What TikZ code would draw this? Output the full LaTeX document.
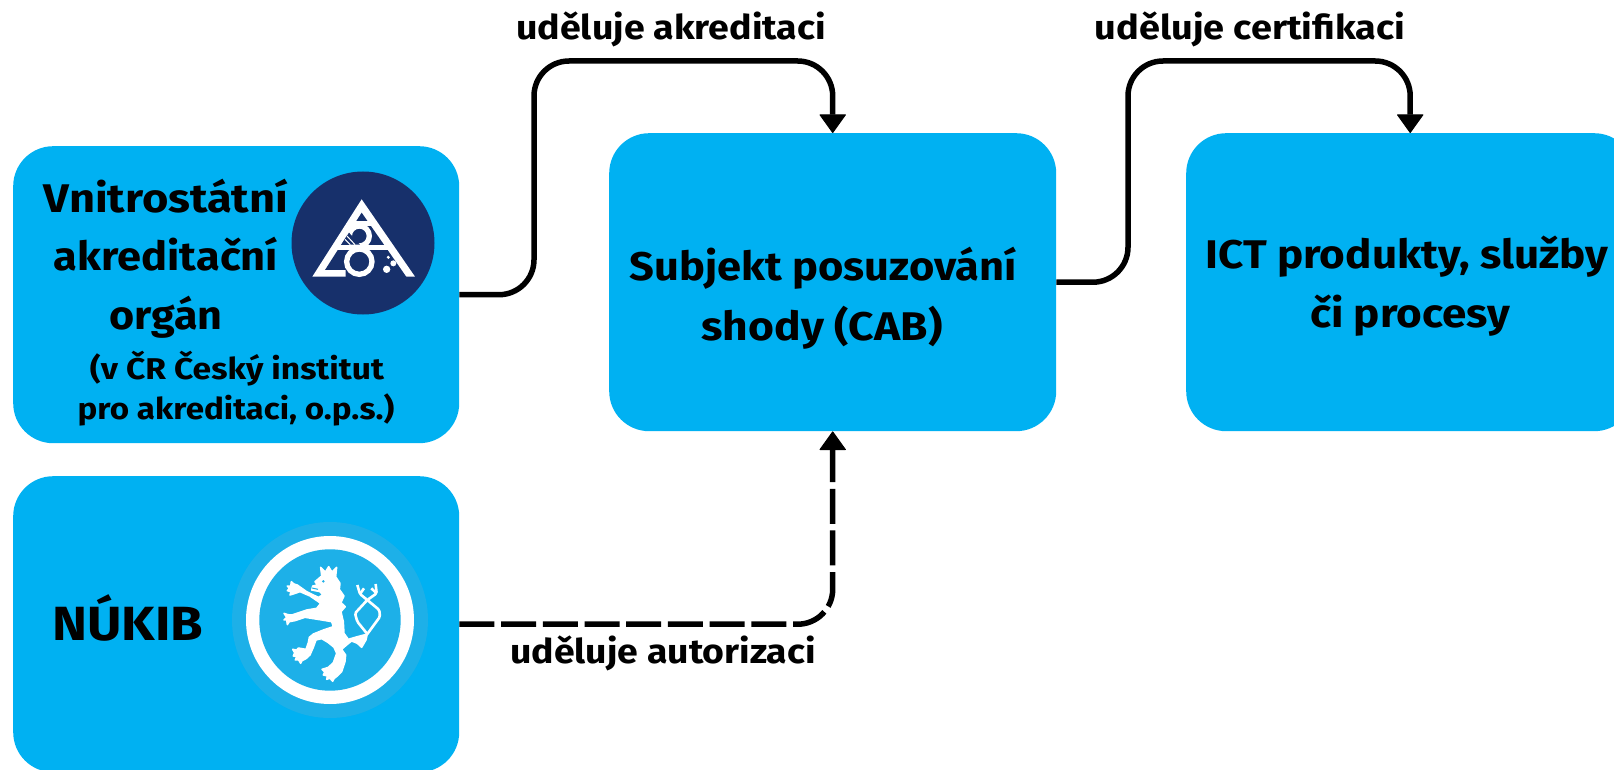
\documentclass[tikz,border=0pt]{standalone}
\usepackage{fontspec}
\setmainfont{Fira Sans}[BoldFont=* Bold]
\usetikzlibrary{arrows.meta}
\definecolor{boxblue}{HTML}{00B1F2}
\definecolor{abanavy}{HTML}{17306B}
\definecolor{halo}{HTML}{1DB0E8}
\tikzset{
  x=1pt,y=-1pt,
  blue box/.style={draw=none,fill=boxblue,rounded corners=40pt,inner sep=0pt,anchor=north west},
  big text/.style={inner sep=0pt,anchor=base,text=black,font=\fontsize{40}{40}\selectfont\bfseries\addfontfeature{FakeStretch=#1}},
  huge text/.style={inner sep=0pt,anchor=base,text=black,font=\fontsize{48}{48}\selectfont\bfseries\addfontfeature{FakeStretch=#1}},
  small text/.style={inner sep=0pt,anchor=base,text=black,font=\fontsize{30}{30}\selectfont\bfseries\addfontfeature{FakeStretch=#1}},
  label text/.style={inner sep=0pt,anchor=base,text=black,font=\fontsize{34}{34}\selectfont\bfseries\addfontfeature{FakeStretch=#1}},
  link/.style={draw=black,line width=5.5pt,rounded corners=35pt,-{Triangle[length=19pt,width=27pt,line width=1pt,round]}},
  dash link/.style={link,dash pattern=on 35pt off 6.7pt},
}
\begin{document}
\begin{tikzpicture}
\useasboundingbox (0,0) rectangle (1614,770);
\clip (0,0) rectangle (1614,770);
\node[blue box,minimum width=446pt,minimum height=297pt] (vao) at (13,146) {};
\node[blue box,minimum width=446pt,minimum height=296pt] (nukib) at (13,476) {};
\node[blue box,minimum width=447pt,minimum height=298pt] (cab) at (609,133) {};
\node[blue box,minimum width=448pt,minimum height=298pt] (ict) at (1186,133) {};

\node[big text=1.13] (t1) at (166,212) {Vnitrostátní};
\node[big text=1.085] (t2) at (166,270) {akreditační};
\node[big text=1.077] (t3) at (166,329) {orgán};
\node[small text=1.12] (t4) at (237,379) {(v ČR Český institut};
\node[small text=1.105] (t5) at (236,419) {pro akreditaci, o.p.s.)};
\node[huge text=1.1] (t6) at (128,640) {NÚKIB};
\node[big text=1.086] (t7) at (823,280) {Subjekt posuzování};
\node[big text=1.11] (t8) at (822,340) {shody (CAB)};
\node[big text=1.10] (t9) at (1407,269) {ICT produkty, služby};
\node[big text=1.10] (t10) at (1410,327) {či procesy};
\node[label text=1.104] (l1) at (671,40) {uděluje akreditaci};
\node[label text=1.115] (l2) at (1250,40) {uděluje certifikaci};
\node[label text=1.10] (l3) at (663,663) {uděluje autorizaci};

\coordinate (a1) at (534,61);
\coordinate (a2) at (1128,61);
\draw[link] (vao.east) -| (a1) -| (cab.north);
\draw[link] (cab.east) -| (a2) -| (ict.north);
\draw[dash link] (nukib.east) -| (cab.south);

% ABA logo
\fill[abanavy] (363,243) circle (71.5);
\begin{scope}[shift={(280,160)},x=0.3333pt,y=-0.3333pt]
  \fill[white] (245,118) -- (405,350) -- (97,350) -- cycle;
  \fill[abanavy] (245,158) -- (380,352) -- (197,352) -- (197,330) -- (135,330) -- cycle;
  \draw[white,line width=5pt] (165,263) -- (335,263);
  \draw[white,line width=5pt] (212,190) -- (278,190);
  \draw[white,line width=5.3pt] (238,228) circle (30);
  \draw[white,line width=5.3pt] (238,305) circle (38);
  \fill[abanavy] (207,218) -- (240,254) -- (184,254) -- cycle;
  \draw[white,line width=1pt] (201,228) -- (225,254) (195,238) -- (211,254);
  \fill[white] (320,328) circle (11) (340,310) circle (9) (325,292) circle (5);
\end{scope}

% NUKIB emblem
\fill[halo] (330,620) circle (98);
\fill[white] (330,620) circle (84);
\fill[halo] (330,620) circle (70.7);
\begin{scope}[shift={(280,560)},x=0.3333pt,y=-0.3333pt]
  \filldraw[white,line width=1.5pt,line join=round] (122,22) -- (136,36) -- (146,20) -- (156,36) -- (170,22) -- (167,50) -- (180,70) -- (178,88) -- (192,108) -- (183,128) -- (196,140) -- (183,155) -- (190,185) -- (192,220) -- (205,238) -- (225,232) -- (262,222) -- (258,240) -- (245,262) -- (232,250) -- (215,243) -- (200,255) -- (185,268) -- (197,285) -- (195,305) -- (185,335) -- (172,348) -- (162,356) -- (158,364) -- (150,355) -- (140,358) -- (142,348) -- (130,345) -- (134,336) -- (126,328) -- (145,322) -- (160,308) -- (170,280) -- (162,262) -- (145,248) -- (125,236) -- (108,240) -- (100,262) -- (90,285) -- (78,296) -- (66,302) -- (62,310) -- (56,300) -- (46,300) -- (50,290) -- (40,288) -- (44,278) -- (38,268) -- (50,270) -- (55,264) -- (78,268) -- (85,248) -- (88,232) -- (100,222) -- (130,210) -- (160,200) -- (155,185) -- (125,180) -- (75,172) -- (45,182) -- (28,185) -- (22,194) -- (20,180) -- (12,180) -- (20,172) -- (12,160) -- (24,164) -- (35,165) -- (80,150) -- (110,145) -- (122,130) -- (90,108) -- (60,95) -- (40,102) -- (30,105) -- (33,95) -- (22,92) -- (28,85) -- (22,78) -- (32,78) -- (34,65) -- (42,72) -- (52,75) -- (80,95) -- (115,112) -- (128,105) -- (120,95) -- (95,90) -- (98,78) -- (112,75) -- (105,65) -- (125,48) -- cycle;
  \draw[white,line width=2.6pt,line join=round,rounded corners=1.5pt] (262,222) -- (232,185) -- (225,160) -- (262,120) -- (240,102) -- (232,75);
  \draw[white,line width=2.6pt,line join=round] (240,102) -- (252,85);
  \draw[white,line width=2.6pt,line join=round,rounded corners=1.5pt] (262,120) -- (290,100) -- (287,72);
  \draw[white,line width=2.6pt,line join=round] (290,100) -- (274,85);
  \draw[white,line width=2.6pt,line join=round,rounded corners=1.5pt] (262,120) -- (298,150) -- (300,170) -- (262,222);
  \fill[halo] (130,64) circle (4);
  \draw[halo,line width=1pt] (96,84) -- (114,88);
\end{scope}
\end{tikzpicture}
\end{document}
